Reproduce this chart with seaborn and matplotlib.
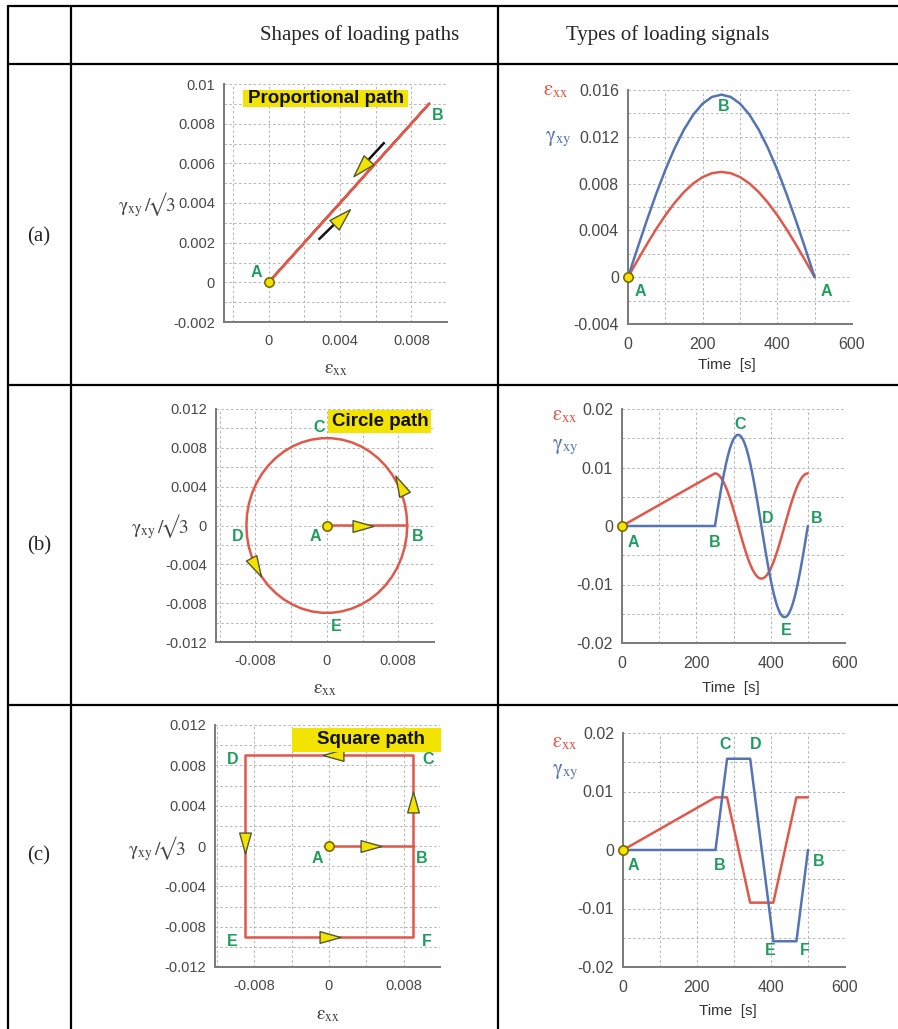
import numpy as np
import matplotlib
matplotlib.use("Agg")
import matplotlib.pyplot as plt
import seaborn as sns
from matplotlib.lines import Line2D
from matplotlib.patches import Rectangle
from matplotlib.path import Path
from matplotlib.markers import MarkerStyle
from matplotlib.transforms import Affine2D
from matplotlib.ticker import MultipleLocator, FuncFormatter

# ------------------------------------------------------------------ data
# (a) proportional path: sinusoidal signals
time_a = [0, 25, 50, 75, 100, 125, 150, 175, 200, 225, 250,
          275, 300, 325, 350, 375, 400, 425, 450, 475, 500]
eps_a = [0, 0.00141, 0.00278, 0.00409, 0.00529, 0.00636, 0.00728, 0.00802, 0.00856, 0.00889, 0.009,
         0.00889, 0.00856, 0.00802, 0.00728, 0.00636, 0.00529, 0.00409, 0.00278, 0.00141, 0]
gam_a = [0, 0.00244, 0.00482, 0.00708, 0.00917, 0.01103, 0.01262, 0.01390, 0.01484, 0.01541, 0.0156,
         0.01541, 0.01484, 0.01390, 0.01262, 0.01103, 0.00917, 0.00708, 0.00482, 0.00244, 0]

# (b) circle path
time_b = [0, 250, 255, 260, 265, 270, 275, 280, 285, 290, 295, 300, 305, 310, 315, 320, 325,
          330, 335, 340, 345, 350, 355, 360, 365, 370, 375, 380, 385, 390, 395, 400, 405, 410,
          415, 420, 425, 430, 435, 440, 445, 450, 455, 460, 465, 470, 475, 480, 485, 490, 495, 500]
eps_b = [0, 0.009, 0.008929, 0.008717, 0.008368, 0.007887, 0.007281, 0.006561, 0.005737,
         0.004822, 0.003832, 0.002781, 0.001686, 0.000565, -0.000565, -0.001686, -0.002781,
         -0.003832, -0.004822, -0.005737, -0.006561, -0.007281, -0.007887, -0.008368, -0.008717,
         -0.008929, -0.009, -0.008929, -0.008717, -0.008368, -0.007887, -0.007281, -0.006561,
         -0.005737, -0.004822, -0.003832, -0.002781, -0.001686, -0.000565, 0.000565, 0.001686,
         0.002781, 0.003832, 0.004822, 0.005737, 0.006561, 0.007281, 0.007887, 0.008368,
         0.008717, 0.008929, 0.009]
gam_b = [0, 0, 0.001955, 0.003880, 0.005743, 0.007515, 0.009170, 0.010679, 0.012020, 0.013172,
         0.014115, 0.014837, 0.015324, 0.015569, 0.015569, 0.015324, 0.014837, 0.014115,
         0.013172, 0.012020, 0.010679, 0.009170, 0.007515, 0.005743, 0.003880, 0.001955, 0,
         -0.001955, -0.003880, -0.005743, -0.007515, -0.009170, -0.010679, -0.012020, -0.013172,
         -0.014115, -0.014837, -0.015324, -0.015569, -0.015569, -0.015324, -0.014837, -0.014115,
         -0.013172, -0.012020, -0.010679, -0.009170, -0.007515, -0.005743, -0.003880, -0.001955, 0]

# (c) square path
time_c = [0, 250, 281.25, 343.75, 406.25, 468.75, 500]
eps_c = [0, 0.009, 0.009, -0.009, -0.009, 0.009, 0.009]
gam_c = [0, 0, 0.0156, 0.0156, -0.0156, -0.0156, 0]

# point labels (text, x, y)
lab_a_path = [("A", -0.0007, 0.00048), ("B", 0.0095, 0.0084)]
lab_a_time = [("A", 32, -0.0012), ("A", 532, -0.0012), ("B", 255, 0.0146)]
lab_b_path = [("C", -0.0009, 0.0101), ("A", -0.0013, -0.0011), ("B", 0.0102, -0.0011),
              ("D", -0.0100, -0.0011), ("E", 0.0011, -0.0104)]
lab_b_time = [("A", 30, -0.0029), ("B", 250, -0.0028), ("C", 317, 0.0173),
              ("D", 393, 0.0013), ("B", 524, 0.0013), ("E", 441, -0.0178)]
lab_c_path = [("D", -0.0103, 0.0086), ("C", 0.0106, 0.0086), ("A", -0.0012, -0.0012),
              ("B", 0.0099, -0.0012), ("E", -0.0103, -0.0095), ("F", 0.0105, -0.0095)]
lab_c_time = [("A", 27, -0.0027), ("B", 262, -0.0027), ("C", 275, 0.0180), ("D", 359, 0.0180),
              ("B", 528, -0.0019), ("E", 397, -0.0172), ("F", 492, -0.0172)]

# direction arrows (x, y, angle in degrees on screen)
tri_b = [(0.0041, 0.0, 0), (0.0082, 0.0042, 116), (-0.0079, -0.0043, -62)]
tri_c = [(0.0045, 0.0, 0), (0.009, 0.0044, 90), (0.00045, 0.009, 180),
         (-0.009, 0.0003, -90), (0.0001, -0.009, 0)]
# proportional path arrows (tail_x, tail_y, tip_x, tip_y)
arr_a = [(0.0065, 0.00706, 0.00474, 0.00534), (0.0028, 0.00215, 0.00456, 0.0037)]

# ------------------------------------------------------------------ style
sns.set_style("white")
plt.rcParams['font.family'] = ['Liberation Sans', 'DejaVu Sans']
plt.rcParams['mathtext.fontset'] = 'stix'

RED = '#e0584a'
BLUE = '#5474b4'
GREEN = '#1e9e5e'
YEL = '#f2e400'
TICK = '#484848'
SPINE = '#7a7a7a'
GRID = '#b4b4b4'

W, H = 898, 1029
fig = plt.figure(figsize=(W / 100, H / 100), dpi=100)
fig.patch.set_facecolor('white')


def add_ax(l, t, r, b):
    return fig.add_axes([l / W, 1 - b / H, (r - l) / W, (b - t) / H])


def fmt(v, pos):
    if abs(v) < 1e-12:
        return '0'
    return '{:g}'.format(round(v, 6))


def style(ax, xlim, ylim, xmaj, xmin, ymaj, ymin, lsize=10.5, xpad=5):
    ax.set_xlim(xlim)
    ax.set_ylim(ylim)
    ax.xaxis.set_major_locator(MultipleLocator(xmaj))
    ax.xaxis.set_minor_locator(MultipleLocator(xmin))
    ax.yaxis.set_major_locator(MultipleLocator(ymaj))
    ax.yaxis.set_minor_locator(MultipleLocator(ymin))
    ax.xaxis.set_major_formatter(FuncFormatter(fmt))
    ax.yaxis.set_major_formatter(FuncFormatter(fmt))
    ax.grid(True, which='both', color=GRID, ls=(0, (2.5, 2.5)), lw=0.7)
    ax.set_axisbelow(True)
    for s in ['top', 'right']:
        ax.spines[s].set_visible(False)
    for s in ['left', 'bottom']:
        ax.spines[s].set_color(SPINE)
        ax.spines[s].set_linewidth(1.4)
    ax.tick_params(axis='both', which='major', color=SPINE, labelcolor=TICK, labelsize=lsize, width=1)
    ax.tick_params(axis='x', which='major', direction='inout', length=7, pad=xpad)
    ax.tick_params(axis='y', which='major', direction='out', length=5, pad=1.5)
    ax.tick_params(axis='both', which='minor', direction='inout', length=5, width=1, color=SPINE)
    ax.set_xlabel('')
    ax.set_ylabel('')
    ax.set_facecolor('none')


def tri_marker(angle, w=0.28):
    verts = [(0.5, 0.0), (-0.5, w), (-0.5, -w), (0.5, 0.0)]
    return MarkerStyle(Path(verts, closed=True), transform=Affine2D().rotate_deg(angle))


def draw_tris(ax, tris):
    for x, y, ang in tris:
        ax.plot([x], [y], marker=tri_marker(ang), ms=15, mfc=YEL, mec='#555533', mew=1.0,
                ls='none', zorder=6, clip_on=False)


def draw_labels(ax, labs):
    for s, x, y in labs:
        ax.text(x, y, s, color=GREEN, fontsize=11.5, fontweight='bold', ha='center', va='center',
                zorder=7, clip_on=False)


def path_panel(ax, eps, gam):
    yv = [g / np.sqrt(3) for g in gam]
    sns.lineplot(x=eps, y=yv, sort=False, estimator=None, color=RED, lw=1.8, ax=ax, zorder=3)
    sns.scatterplot(x=[eps[0]], y=[yv[0]], s=45, color=YEL, edgecolor='#7a6a00', linewidth=1.2,
                    ax=ax, zorder=8, clip_on=False)


def time_panel(ax, t, eps, gam):
    sns.lineplot(x=t, y=eps, sort=False, estimator=None, color=RED, lw=1.8, ax=ax, zorder=3)
    sns.lineplot(x=t, y=gam, sort=False, estimator=None, color=BLUE, lw=1.8, ax=ax, zorder=4)
    sns.scatterplot(x=[t[0]], y=[eps[0]], s=45, color=YEL, edgecolor='#7a6a00', linewidth=1.2,
                    ax=ax, zorder=8, clip_on=False)


def ftext(x, y, s, **kw):
    fig.text(x / W, 1 - y / H, s, **kw)


def ybox(l, t, r, b, text, cx, cy, fs=13.5):
    fig.add_artist(Rectangle((l / W, 1 - b / H), (r - l) / W, (b - t) / H,
                             transform=fig.transFigure, facecolor=YEL, edgecolor='none', zorder=5))
    ftext(cx, cy, text, fontsize=fs, fontweight='bold', color='#111111', ha='center',
          va='center', zorder=6)


EPS_LBL = r'$\mathrm{\varepsilon}_{\mathrm{xx}}$'
GAM_LBL = r'$\mathrm{\gamma}_{\mathrm{xy}}$'
YPATH_LBL = '$\\mathrm{\\gamma}_{\\mathrm{xy}}\\,/\\!\\mathrm{\u221a3}$'

# ------------------------------------------------------------------ panels
# (a) path
ax = add_ax(224, 84, 447, 322)
path_panel(ax, eps_a, gam_a)
style(ax, (-0.0025, 0.010), (-0.002, 0.010), 0.004, 0.002, 0.002, 0.001)
draw_labels(ax, lab_a_path)
for tx, ty, hx, hy in arr_a:
    p0 = ax.transData.transform((tx, ty))
    p1 = ax.transData.transform((hx, hy))
    d = p1 - p0
    u = d / np.hypot(*d)
    ang = np.degrees(np.arctan2(d[1], d[0]))
    inv = ax.transData.inverted()
    hc = inv.transform(p1 - u * 11)
    tb = inv.transform(p1 - u * 20)
    ax.plot([tx, tb[0]], [ty, tb[1]], color='#111111', lw=1.8, zorder=5, solid_capstyle='butt')
    ax.plot([hc[0]], [hc[1]], marker=tri_marker(ang, 0.3), ms=16, mfc=YEL, mec='#555533',
            mew=1.0, ls='none', zorder=6)
ybox(243, 90, 408, 107, 'Proportional path', 326, 98.5, fs=13.5)
ftext(147, 205, YPATH_LBL, fontsize=14, color='#444444', ha='center', va='center')
ftext(336, 370, EPS_LBL, fontsize=14, color='#444444', ha='center', va='center')

# (a) time
ax = add_ax(628, 90, 852, 324)
time_panel(ax, time_a, eps_a, gam_a)
style(ax, (0, 600), (-0.004, 0.016), 200, 100, 0.004, 0.002, lsize=11.5, xpad=6)
draw_labels(ax, lab_a_time)
ftext(556, 91, EPS_LBL, fontsize=15, color=RED, ha='center', va='center')
ftext(558, 139, GAM_LBL, fontsize=15, color=BLUE, ha='center', va='center')
ftext(727, 365, 'Time  [s]', fontsize=11, color='#333333', ha='center', va='center')

# (b) path
ax = add_ax(216, 409, 434, 642)
path_panel(ax, eps_b, gam_b)
style(ax, (-0.0124, 0.012), (-0.012, 0.012), 0.008, 0.004, 0.004, 0.002)
draw_tris(ax, tri_b)
draw_labels(ax, lab_b_path)
ybox(328, 410, 431, 433, 'Circle path', 380, 421.5)
ftext(160, 527, YPATH_LBL, fontsize=14, color='#444444', ha='center', va='center')
ftext(325, 690, EPS_LBL, fontsize=14, color='#444444', ha='center', va='center')

# (b) time
ax = add_ax(622, 409, 845, 643)
time_panel(ax, time_b, eps_b, gam_b)
style(ax, (0, 600), (-0.02, 0.02), 200, 100, 0.01, 0.005, lsize=11.5, xpad=6)
draw_labels(ax, lab_b_time)
ftext(565, 415, EPS_LBL, fontsize=15, color=RED, ha='center', va='center')
ftext(565, 447, GAM_LBL, fontsize=15, color=BLUE, ha='center', va='center')
ftext(731, 688, 'Time  [s]', fontsize=11, color='#333333', ha='center', va='center')

# (c) path
ax = add_ax(215, 725, 440, 967)
path_panel(ax, eps_c, gam_c)
style(ax, (-0.0122, 0.0119), (-0.012, 0.012), 0.008, 0.004, 0.004, 0.002)
draw_tris(ax, tri_c)
draw_labels(ax, lab_c_path)
ybox(292, 728, 441, 752, 'Square path', 371, 740)
ftext(157, 849, YPATH_LBL, fontsize=14, color='#444444', ha='center', va='center')
ftext(328, 1015, EPS_LBL, fontsize=14, color='#444444', ha='center', va='center')

# (c) time
ax = add_ax(623, 733, 845, 967)
time_panel(ax, time_c, eps_c, gam_c)
style(ax, (0, 600), (-0.02, 0.02), 200, 100, 0.01, 0.005, lsize=11.5, xpad=6)
draw_labels(ax, lab_c_time)
ftext(565, 742, EPS_LBL, fontsize=15, color=RED, ha='center', va='center')
ftext(565, 772, GAM_LBL, fontsize=15, color=BLUE, ha='center', va='center')
ftext(728, 1011, 'Time  [s]', fontsize=11, color='#333333', ha='center', va='center')

# ------------------------------------------------------------------ table frame
LW = 1.6
def hline(y, x0=8, x1=W):
    fig.add_artist(Line2D([x0 / W, x1 / W], [1 - y / H, 1 - y / H], transform=fig.transFigure,
                          color='black', lw=LW))
def vline(x, y0=5.5, y1=H):
    fig.add_artist(Line2D([x / W, x / W], [1 - y0 / H, 1 - y1 / H], transform=fig.transFigure,
                          color='black', lw=LW))

for yy in [5.5, 63.5, 385, 705]:
    hline(yy)
for xx in [8, 70.5, 498]:
    vline(xx)

serif = ['Liberation Serif', 'DejaVu Serif']
ftext(360, 35, 'Shapes of loading paths', fontsize=15, family=serif, ha='center', va='center')
ftext(668, 35, 'Types of loading signals', fontsize=15, family=serif, ha='center', va='center')
for lbl, yy in [('(a)', 237), ('(b)', 546), ('(c)', 856)]:
    ftext(39, yy, lbl, fontsize=15, family=serif, ha='center', va='center')

fig.savefig('out.png', dpi=100)
